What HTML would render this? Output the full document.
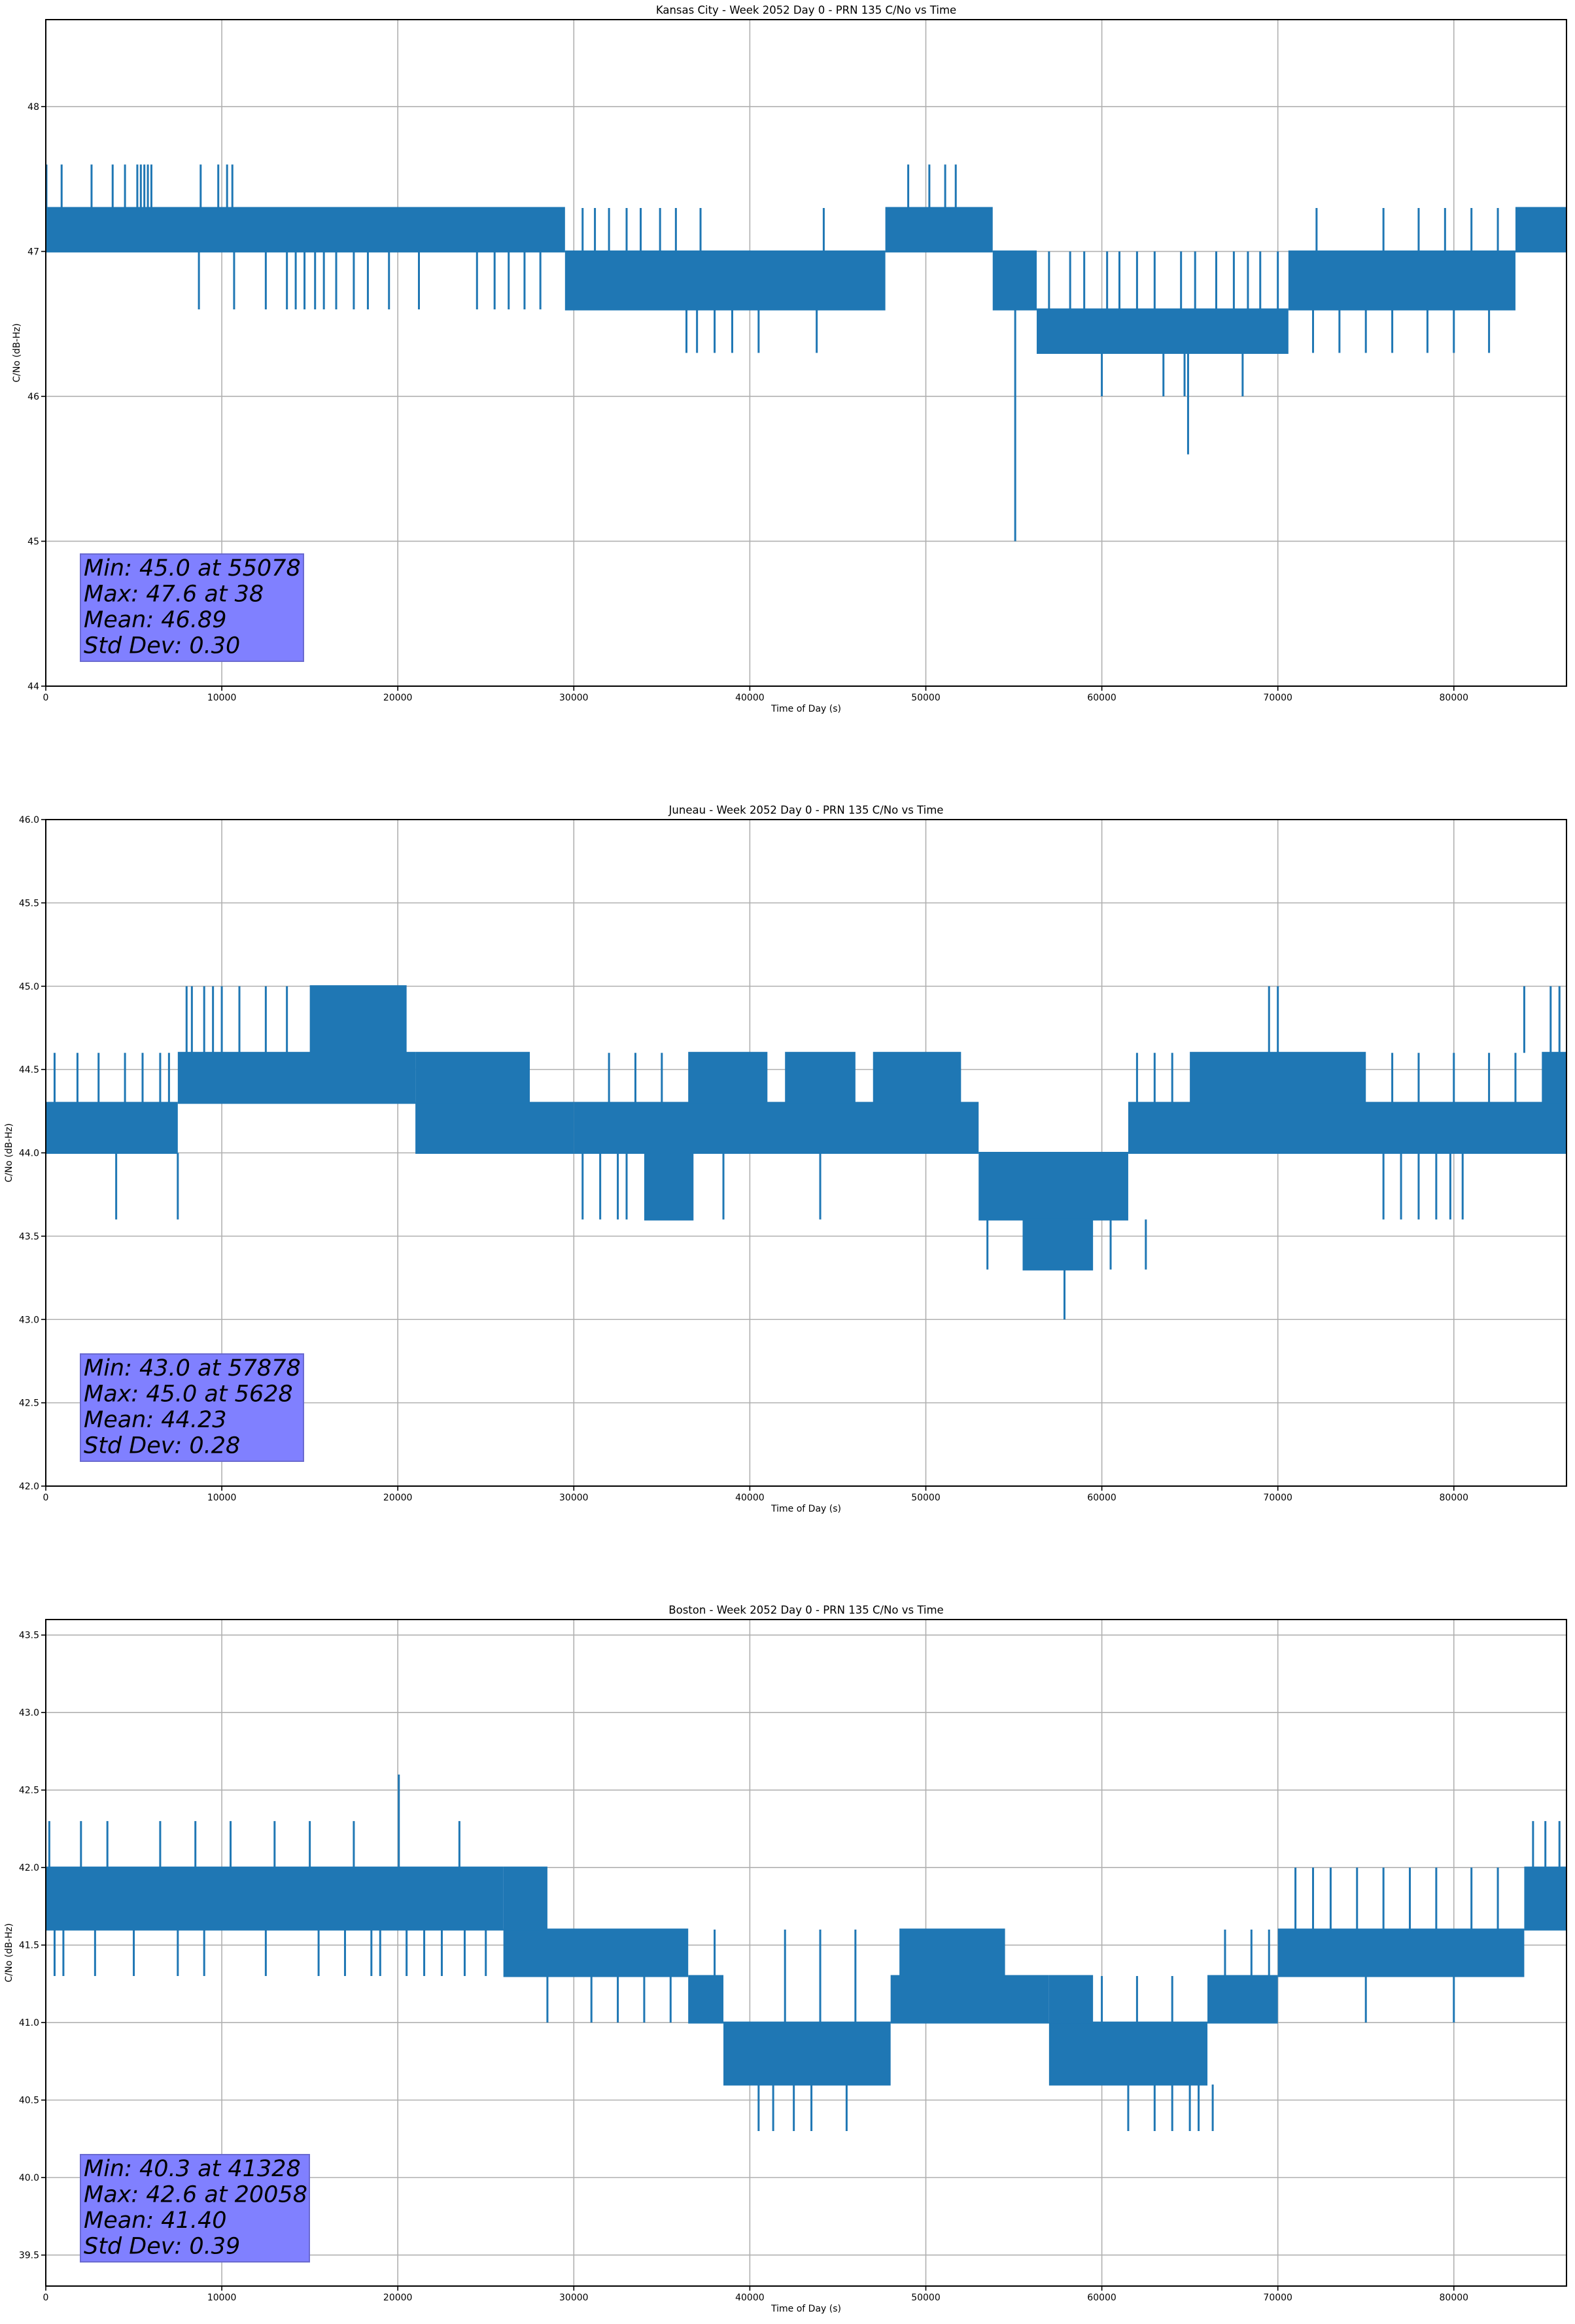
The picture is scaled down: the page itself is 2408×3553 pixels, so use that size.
<!DOCTYPE html>
<html><head><meta charset="utf-8"><style>
body{margin:0;background:#fff}
svg text{font-family:"DejaVu Sans","Liberation Sans",sans-serif}
</style></head><body>
<svg id="fig" width="2408" height="3548" xmlns="http://www.w3.org/2000/svg"></svg>
<script>
// ---- Kansas City data ----
const kcBandStart=[0,29500,47700,53800,56300,70600,83500];
const kcBandEnd=[29500,47700,53800,56300,70600,83500,86400];
const kcBandLow=[47.0,46.6,47.0,46.6,46.3,46.6,47.0];
const kcBandHigh=[47.3,47.0,47.3,47.0,46.6,47.0,47.3];
const kcSpikeT=[38,900,2600,3800,4500,5200,5400,5600,5800,6000,8800,9800,10300,10600,49000,50200,51100,51700,
8700,10700,12500,13700,14200,14700,15300,15800,16500,17500,18300,19500,21200,24500,25500,26300,27200,28100,
30500,31200,32000,33000,33800,34900,35800,37200,44200,36400,37000,38000,39000,40500,43800,55078,
57000,58200,59000,60300,61000,62000,63000,64500,65300,66500,67500,68300,69000,70000,60000,63500,64700,68000,64900,
72200,76000,78000,79500,81000,82500,72000,73500,75000,76500,78500,80000,82000];
const kcSpikeFrom=[47.3,47.3,47.3,47.3,47.3,47.3,47.3,47.3,47.3,47.3,47.3,47.3,47.3,47.3,47.3,47.3,47.3,47.3,
47.0,47.0,47.0,47.0,47.0,47.0,47.0,47.0,47.0,47.0,47.0,47.0,47.0,47.0,47.0,47.0,47.0,47.0,
47.0,47.0,47.0,47.0,47.0,47.0,47.0,47.0,47.0,46.6,46.6,46.6,46.6,46.6,46.6,46.6,
46.6,46.6,46.6,46.6,46.6,46.6,46.6,46.6,46.6,46.6,46.6,46.6,46.6,46.6,46.3,46.3,46.3,46.3,46.3,
47.0,47.0,47.0,47.0,47.0,47.0,46.6,46.6,46.6,46.6,46.6,46.6,46.6];
const kcSpikeTo=[47.6,47.6,47.6,47.6,47.6,47.6,47.6,47.6,47.6,47.6,47.6,47.6,47.6,47.6,47.6,47.6,47.6,47.6,
46.6,46.6,46.6,46.6,46.6,46.6,46.6,46.6,46.6,46.6,46.6,46.6,46.6,46.6,46.6,46.6,46.6,46.6,
47.3,47.3,47.3,47.3,47.3,47.3,47.3,47.3,47.3,46.3,46.3,46.3,46.3,46.3,46.3,45.0,
47.0,47.0,47.0,47.0,47.0,47.0,47.0,47.0,47.0,47.0,47.0,47.0,47.0,47.0,46.0,46.0,46.0,46.0,45.6,
47.3,47.3,47.3,47.3,47.3,47.3,46.3,46.3,46.3,46.3,46.3,46.3,46.3];
const kcYTicks=[44,45,46,47,48];
const kcStats=["Min: 45.0 at 55078","Max: 47.6 at 38","Mean: 46.89","Std Dev: 0.30"];

// ---- Juneau data ----
const juBandStart=[0,7500,15000,21000,21000,30000,36500,42000,47000,34000,53000,55500,61500,65000,85000];
const juBandEnd=[7500,21000,20500,30000,27500,53000,41000,46000,52000,36800,61500,59500,86400,75000,86400];
const juBandLow=[44.0,44.3,44.6,44.0,44.3,44.0,44.3,44.3,44.3,43.6,43.6,43.3,44.0,44.3,44.3];
const juBandHigh=[44.3,44.6,45.0,44.3,44.6,44.3,44.6,44.6,44.6,44.0,44.0,43.6,44.3,44.6,44.6];
const juSpikeT=[8000,8300,9000,9500,10000,11000,12500,13700,69500,70000,84000,85500,86000,
4000,7500,30500,31500,32500,33000,38500,44000,76000,77000,78000,79000,79800,80500,
500,1800,3000,4500,5500,6500,7000,57878,53500,60500,62500,
32000,33500,35000,62000,63000,64000,76500,78000,80000,82000,83500];
const juSpikeFrom=[44.6,44.6,44.6,44.6,44.6,44.6,44.6,44.6,44.6,44.6,44.6,44.6,44.6,
44.0,44.0,44.0,44.0,44.0,44.0,44.0,44.0,44.0,44.0,44.0,44.0,44.0,44.0,
44.3,44.3,44.3,44.3,44.3,44.3,44.3,43.3,43.6,43.6,43.6,
44.3,44.3,44.3,44.3,44.3,44.3,44.3,44.3,44.3,44.3,44.3];
const juSpikeTo=[45.0,45.0,45.0,45.0,45.0,45.0,45.0,45.0,45.0,45.0,45.0,45.0,45.0,
43.6,43.6,43.6,43.6,43.6,43.6,43.6,43.6,43.6,43.6,43.6,43.6,43.6,43.6,
44.6,44.6,44.6,44.6,44.6,44.6,44.6,43.0,43.3,43.3,43.3,
44.6,44.6,44.6,44.6,44.6,44.6,44.6,44.6,44.6,44.6,44.6];
const juYTicks=[42.0,42.5,43.0,43.5,44.0,44.5,45.0,45.5,46.0];
const juStats=["Min: 43.0 at 57878","Max: 45.0 at 5628","Mean: 44.23","Std Dev: 0.28"];

// ---- Boston data ----
const boBandStart=[0,26000,26000,36500,38500,48000,48500,57000,57000,66000,70000,84000];
const boBandEnd=[26000,36500,28500,38500,48000,57000,54500,66000,59500,70000,84000,86400];
const boBandLow=[41.6,41.3,41.6,41.0,40.6,41.0,41.3,40.6,41.0,41.0,41.3,41.6];
const boBandHigh=[42.0,41.6,42.0,41.3,41.0,41.3,41.6,41.0,41.3,41.3,41.6,42.0];
const boSpikeT=[200,2000,3500,6500,8500,10500,13000,15000,17500,23500,20058,
500,1000,2800,5000,7500,9000,12500,15500,17000,18500,19000,20500,21500,22500,23800,25000,
28500,31000,32500,34000,35500,41328,40500,42500,43500,45500,61500,63000,64000,65000,65500,66300,
38000,42000,44000,46000,60000,62000,64000,67000,68500,69500,
71000,72000,73000,74500,76000,77500,79000,81000,82500,75000,80000,84500,85200,86000];
const boSpikeFrom=[42.0,42.0,42.0,42.0,42.0,42.0,42.0,42.0,42.0,42.0,42.0,
41.6,41.6,41.6,41.6,41.6,41.6,41.6,41.6,41.6,41.6,41.6,41.6,41.6,41.6,41.6,41.6,
41.3,41.3,41.3,41.3,41.3,40.6,40.6,40.6,40.6,40.6,40.6,40.6,40.6,40.6,40.6,40.6,
41.0,41.0,41.0,41.0,41.0,41.0,41.0,41.3,41.3,41.3,
41.6,41.6,41.6,41.6,41.6,41.6,41.6,41.6,41.6,41.3,41.3,42.0,42.0,42.0];
const boSpikeTo=[42.3,42.3,42.3,42.3,42.3,42.3,42.3,42.3,42.3,42.3,42.6,
41.3,41.3,41.3,41.3,41.3,41.3,41.3,41.3,41.3,41.3,41.3,41.3,41.3,41.3,41.3,41.3,
41.0,41.0,41.0,41.0,41.0,40.3,40.3,40.3,40.3,40.3,40.3,40.3,40.3,40.3,40.3,40.3,
41.6,41.6,41.6,41.6,41.3,41.3,41.3,41.6,41.6,41.6,
42.0,42.0,42.0,42.0,42.0,42.0,42.0,42.0,42.0,41.0,41.0,42.3,42.3,42.3];
const boYTicks=[39.5,40.0,40.5,41.0,41.5,42.0,42.5,43.0,43.5];
const boStats=["Min: 40.3 at 41328","Max: 42.6 at 20058","Mean: 41.40","Std Dev: 0.39"];

const xTicks=[0,10000,20000,30000,40000,50000,60000,70000,80000];

const NS="http://www.w3.org/2000/svg";
const svg=document.getElementById('fig');
function mk(tag,attrs,parent){const e=document.createElementNS(NS,tag);for(const k in attrs)e.setAttribute(k,attrs[k]);(parent||svg).appendChild(e);return e;}

function drawChart(cfg){
  const L=70,R=2395,T=cfg.top,B=cfg.top+1019;
  const xs=t=>L+(t/86400)*(R-L);
  const ys=v=>B-(v-cfg.ymin)/(cfg.ymax-cfg.ymin)*(B-T);
  const g=mk('g',{});
  
  
  xTicks.forEach(t=>{const l=mk('line',{x1:xs(t),x2:xs(t),y1:T,y2:B,stroke:'#b0b0b0','stroke-width':1.6},g);
    });
  cfg.yt.forEach(v=>{const l=mk('line',{x1:L,x2:R,y1:ys(v),y2:ys(v),stroke:'#b0b0b0','stroke-width':1.6},g);
    });
  const c='#1f77b4';
  for(let i=0;i<cfg.bs.length;i++){
    const r=mk('rect',{x:xs(cfg.bs[i]),y:ys(cfg.bh[i])-1.5,width:xs(cfg.be[i])-xs(cfg.bs[i]),height:ys(cfg.bl[i])-ys(cfg.bh[i])+3,fill:c},g);
    
  }
  for(let i=0;i<cfg.st.length;i++){
    const l=mk('line',{x1:xs(cfg.st[i]),x2:xs(cfg.st[i]),y1:ys(cfg.sf[i]),y2:ys(cfg.sto[i]),stroke:c,'stroke-width':3},g);
    
  }
  const f=mk('rect',{x:L,y:T,width:R-L,height:B-T,fill:'none',stroke:'#000','stroke-width':2},g);
  
  xTicks.forEach(t=>{mk('line',{x1:xs(t),x2:xs(t),y1:B,y2:B+7,stroke:'#000','stroke-width':1.6},g);
    const tx=mk('text',{x:xs(t),y:B+22,'font-size':14,'text-anchor':'middle'},g);tx.textContent=String(t);
    });
  cfg.yt.forEach(v=>{mk('line',{x1:L-7,x2:L,y1:ys(v),y2:ys(v),stroke:'#000','stroke-width':1.6},g);
    const tx=mk('text',{x:L-10,y:ys(v)+5,'font-size':14,'text-anchor':'end'},g);tx.textContent=cfg.dec?v.toFixed(1):String(v);
    });
  const ti=mk('text',{x:(L+R)/2,y:T-9,'font-size':16.5,'text-anchor':'middle'},g);ti.textContent=cfg.title;
  
  const xl=mk('text',{x:(L+R)/2,y:B+39,'font-size':14,'text-anchor':'middle'},g);xl.textContent='Time of Day (s)';
  
  const yl=mk('text',{x:0,y:0,'font-size':14,'text-anchor':'middle',transform:`translate(${cfg.ylx},${(T+B)/2}) rotate(-90)`},g);yl.textContent='C/No (dB-Hz)';
  
  const bx=mk('rect',{x:123,y:cfg.boxY,width:cfg.boxW,height:164,fill:'#8080ff',stroke:'#6a6ad0','stroke-width':2},g);
  
  cfg.stats.forEach((s,i)=>{const tx=mk('text',{x:128,y:cfg.boxY+33+i*39.5,'font-size':35,'font-style':'italic'},g);tx.textContent=s;
    });
}
drawChart({name:'kansas-city',top:30,ymin:44,ymax:48.6,yt:kcYTicks,dec:false,bs:kcBandStart,be:kcBandEnd,bl:kcBandLow,bh:kcBandHigh,
  st:kcSpikeT,sf:kcSpikeFrom,sto:kcSpikeTo,title:'Kansas City - Week 2052 Day 0 - PRN 135 C/No vs Time',stats:kcStats,boxY:847,boxW:341,ylx:30});
drawChart({name:'juneau',top:1253,ymin:42,ymax:46,yt:juYTicks,dec:true,bs:juBandStart,be:juBandEnd,bl:juBandLow,bh:juBandHigh,
  st:juSpikeT,sf:juSpikeFrom,sto:juSpikeTo,title:'Juneau - Week 2052 Day 0 - PRN 135 C/No vs Time',stats:juStats,boxY:2070,boxW:341,ylx:18});
drawChart({name:'boston',top:2476,ymin:39.3,ymax:43.6,yt:boYTicks,dec:true,bs:boBandStart,be:boBandEnd,bl:boBandLow,bh:boBandHigh,
  st:boSpikeT,sf:boSpikeFrom,sto:boSpikeTo,title:'Boston - Week 2052 Day 0 - PRN 135 C/No vs Time',stats:boStats,boxY:3294,boxW:350,ylx:18});
</script>
</body></html>
